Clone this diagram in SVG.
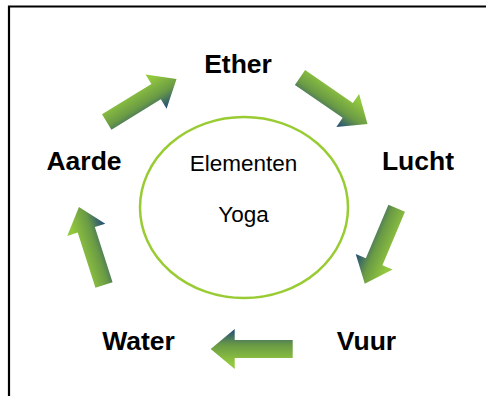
<svg xmlns="http://www.w3.org/2000/svg" width="486" height="396" viewBox="0 0 486 396">
  <style>
    .lbl { font-family: "Liberation Sans", Arial, sans-serif; font-weight: bold; font-size: 26.5px; fill: #000; text-anchor: middle; }
    .ctr { font-family: "Liberation Sans", Arial, sans-serif; font-size: 22.5px; fill: #000; text-anchor: middle; }
    .arrow { fill: url(#arrowGrad); }
  </style>
  <defs>
    <linearGradient id="arrowGrad" x1="0" y1="0" x2="0" y2="1">
      <stop offset="0.15" stop-color="#92c83e"/>
      <stop offset="0.6" stop-color="#6a9a45"/>
      <stop offset="1" stop-color="#1f4a7c"/>
    </linearGradient>
    <polygon id="arrowShape" points="0,-9 58,-9 58,-20 82,0 58,20 58,9 0,9"/>
  </defs>
  <rect x="0" y="0" width="486" height="396" fill="#fff"/>
  <path d="M9,396 V6.5 H486" fill="none" stroke="#000" stroke-width="2.2"/>

  <g id="center">
    <ellipse cx="244" cy="207.5" rx="104" ry="90.5" fill="#fff" stroke="#99cc33" stroke-width="2.5"/>
    <text class="ctr" x="243.5" y="171">Elementen</text>
    <text class="ctr" x="243.5" y="222">Yoga</text>
  </g>

  <g id="ether"><text class="lbl" x="238" y="72.5">Ether</text></g>
  <g id="lucht"><text class="lbl" x="418" y="170">Lucht</text></g>
  <g id="vuur"><text class="lbl" x="366.5" y="350">Vuur</text></g>
  <g id="water"><text class="lbl" x="138.5" y="350">Water</text></g>
  <g id="aarde"><text class="lbl" x="84" y="169.5">Aarde</text></g>

  <g id="connectors">
    <use href="#arrowShape" class="arrow" transform="translate(106.7,122) rotate(-31.6)"/>
    <use href="#arrowShape" class="arrow" transform="translate(300,77.5) rotate(34.6)"/>
    <use href="#arrowShape" class="arrow" transform="translate(396.7,208.3) rotate(112.9)"/>
    <use href="#arrowShape" class="arrow" transform="translate(292.7,349) rotate(180)"/>
    <use href="#arrowShape" class="arrow" transform="translate(104,285) rotate(-107.8)"/>
  </g>
</svg>
